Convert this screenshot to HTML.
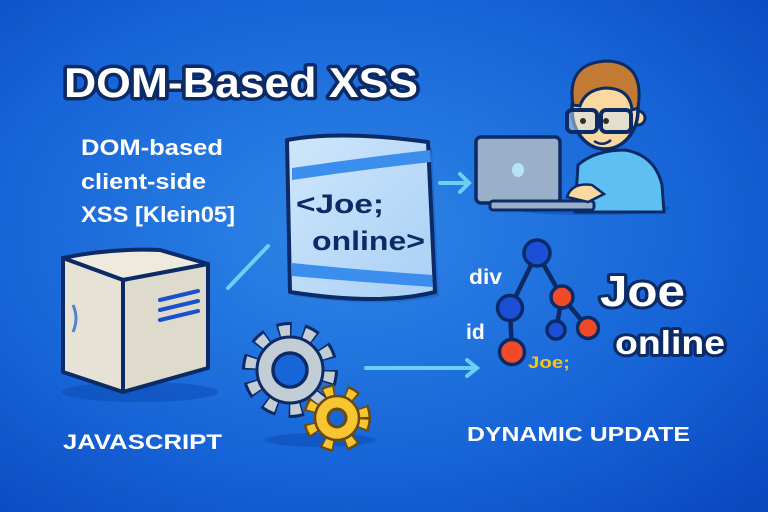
<!DOCTYPE html>
<html><head><meta charset="utf-8"><style>
html,body{margin:0;padding:0;width:768px;height:512px;overflow:hidden}
svg{display:block}
text{font-family:"Liberation Sans","DejaVu Sans",sans-serif;font-weight:bold}
</style></head><body>
<svg width="768" height="512" viewBox="0 0 768 512" xmlns="http://www.w3.org/2000/svg">
<defs>
<radialGradient id="bg" cx="0.45" cy="0.45" r="0.75">
<stop offset="0" stop-color="#2f86e6"/><stop offset="0.6" stop-color="#1765d8"/><stop offset="1" stop-color="#0a48c0"/>
</radialGradient>
<linearGradient id="pg" x1="0" y1="0" x2="1" y2="1"><stop offset="0" stop-color="#cfe6fb"/><stop offset="1" stop-color="#a9d0f5"/></linearGradient>
</defs>
<rect width="768" height="512" fill="url(#bg)"/>

<!-- title -->
<text x="64" y="97" font-size="42" textLength="354" lengthAdjust="spacingAndGlyphs" fill="#fff" stroke="#0b2a66" stroke-width="7" stroke-linejoin="round" paint-order="stroke">DOM-Based XSS</text>
<text x="81" y="155" font-size="22" fill="#fff" textLength="142" lengthAdjust="spacingAndGlyphs">DOM-based</text>
<text x="81" y="189" font-size="22" fill="#fff" textLength="125" lengthAdjust="spacingAndGlyphs">client-side</text>
<text x="81" y="222" font-size="22" fill="#fff" textLength="154" lengthAdjust="spacingAndGlyphs">XSS [Klein05]</text>

<!-- page card -->
<path d="M287 140 Q340 130 428 142 L435 290 Q380 303 290 290 Z" fill="#1550b0" opacity="0.35" transform="translate(4,6)"/>
<path d="M287 140 Q340 130 428 142 L435 292 Q380 306 290 292 Z" fill="url(#pg)" stroke="#0b2a66" stroke-width="4" stroke-linejoin="round"/>
<path d="M292 168 Q360 158 430 150 L431 162 Q360 170 292 180 Z" fill="#3c8eee"/>
<path d="M292 263 Q360 270 432 275 L433 287 Q360 282 292 276 Z" fill="#3c8eee"/>
<text x="296" y="213" font-size="27" fill="#0b2a66" textLength="88" lengthAdjust="spacingAndGlyphs">&lt;Joe;</text>
<text x="312" y="250" font-size="27" fill="#0b2a66" textLength="113" lengthAdjust="spacingAndGlyphs">online&gt;</text>

<!-- connectors -->
<g stroke="#6ad0f5" stroke-width="4" stroke-linecap="round" fill="none">
<line x1="228" y1="288" x2="268" y2="246"/>
<line x1="440" y1="183" x2="468" y2="183"/><path d="M460 174 L469 183 L460 192"/>
<line x1="366" y1="368" x2="476" y2="368"/><path d="M467 360 L477 368 L467 376"/>
</g>

<!-- person -->
<ellipse cx="590" cy="208" rx="80" ry="7" fill="#0d4fb8" opacity="0.6"/>
<path d="M578 165 Q595 150 625 150 Q655 155 662 185 L664 212 L575 212 Z" fill="#5ec0f2" stroke="#0b2a66" stroke-width="3"/>
<circle cx="638" cy="118" r="7" fill="#f9d9a0" stroke="#0b2a66" stroke-width="3"/>
<ellipse cx="605" cy="110" rx="33" ry="39" fill="#f9d9a0" stroke="#0b2a66" stroke-width="3.5"/>
<path d="M573 105 Q566 62 608 61 Q645 63 638 108 L632 110 Q630 88 605 88 Q585 90 580 106 Z" fill="#c27a34" stroke="#0b2a66" stroke-width="3"/>
<rect x="567" y="110" width="30" height="22" rx="5" fill="#cfe6f7" fill-opacity="0.5" stroke="#0b2a66" stroke-width="4"/>
<rect x="601" y="110" width="30" height="22" rx="5" fill="#cfe6f7" fill-opacity="0.5" stroke="#0b2a66" stroke-width="4"/>
<circle cx="583" cy="121" r="3" fill="#3a2a20"/><circle cx="606" cy="121" r="3" fill="#3a2a20"/>
<path d="M594 141 Q603 147 611 140" stroke="#0b2a66" stroke-width="2.5" fill="none"/>
<rect x="476" y="137" width="84" height="66" rx="5" fill="#9ab0c8" stroke="#0b2a66" stroke-width="3.5"/>
<ellipse cx="518" cy="170" rx="6" ry="7" fill="#b8e2f8"/>
<rect x="490" y="201" width="104" height="9" rx="3" fill="#9ab0c8" stroke="#0b2a66" stroke-width="3"/>
<path d="M567 197 Q572 182 592 185 L604 194 L588 202 Z" fill="#f9d9a0" stroke="#0b2a66" stroke-width="2.5"/>

<!-- server box -->
<ellipse cx="140" cy="392" rx="78" ry="10" fill="#0d4fb8" opacity="0.6"/>
<path d="M63 258 Q110 248 160 250 L208 264 L123 280 Z" fill="#eeeade" stroke="#0b2a66" stroke-width="4" stroke-linejoin="round"/>
<path d="M63 258 L123 280 L123 392 L63 372 Z" fill="#e6e3d6" stroke="#0b2a66" stroke-width="4" stroke-linejoin="round"/>
<path d="M123 280 L208 264 L208 368 L123 392 Z" fill="#dedbcd" stroke="#0b2a66" stroke-width="4" stroke-linejoin="round"/>
<path d="M73 305 Q79 318 73 332" stroke="#4f86c6" stroke-width="3" fill="none"/>
<g stroke="#1a50d0" stroke-width="4" stroke-linecap="round"><line x1="160" y1="300" x2="198" y2="291"/><line x1="160" y1="310" x2="198" y2="301"/><line x1="160" y1="320" x2="198" y2="311"/></g>

<!-- gears -->
<ellipse cx="320" cy="440" rx="55" ry="7" fill="#0d4fb8" opacity="0.6"/>
<g transform="translate(290,370)">
<circle r="38" fill="none" stroke="#0b2a66" stroke-width="20" stroke-dasharray="13 10.9"/>
<circle r="38" fill="none" stroke="#c3cdd6" stroke-width="14" stroke-dasharray="10 13.9" stroke-dashoffset="-1.5"/>
<circle r="33" fill="#c3cdd6" stroke="#0b2a66" stroke-width="3"/>
<circle r="17" fill="#1765d8" stroke="#0b2a66" stroke-width="3.5"/>
</g>
<g transform="translate(337,418)">
<circle r="26" fill="none" stroke="#6a4a10" stroke-width="16" stroke-dasharray="11 10.8"/>
<circle r="26" fill="none" stroke="#f7c531" stroke-width="11" stroke-dasharray="8 13.8" stroke-dashoffset="-1.5"/>
<circle r="22" fill="#f7c531" stroke="#6a4a10" stroke-width="2.5"/>
<circle r="9" fill="#1765d8" stroke="#6a4a10" stroke-width="3"/>
</g>

<!-- tree -->
<g stroke="#0b2a66" stroke-width="4.5" fill="none">
<line x1="537" y1="253" x2="510" y2="308"/><line x1="537" y1="253" x2="562" y2="297"/>
<line x1="510" y1="308" x2="512" y2="352"/><line x1="562" y1="297" x2="556" y2="330"/><line x1="562" y1="297" x2="588" y2="328"/>
</g>
<g stroke="#0b2a66" stroke-width="3.5">
<circle cx="537" cy="253" r="13" fill="#1c4fd8"/>
<circle cx="510" cy="308" r="12.5" fill="#1c4fd8"/>
<circle cx="562" cy="297" r="11" fill="#f04a28"/>
<circle cx="512" cy="352" r="12.5" fill="#f04a28"/>
<circle cx="556" cy="330" r="9" fill="#1c4fd8"/>
<circle cx="588" cy="328" r="10.5" fill="#f04a28"/>
</g>
<text x="469" y="284" font-size="21" fill="#fff" textLength="33" lengthAdjust="spacingAndGlyphs">div</text>
<text x="466" y="339" font-size="21" fill="#fff">id</text>
<text x="528" y="368" font-size="17" fill="#f5c518" textLength="42" lengthAdjust="spacingAndGlyphs">Joe;</text>
<text x="600" y="306" font-size="44" fill="#fff" stroke="#0b2a66" stroke-width="6" stroke-linejoin="round" paint-order="stroke" textLength="85" lengthAdjust="spacingAndGlyphs">Joe</text>
<text x="615" y="354" font-size="33" fill="#fff" stroke="#0b2a66" stroke-width="6" stroke-linejoin="round" paint-order="stroke" textLength="110" lengthAdjust="spacingAndGlyphs">online</text>

<text x="63" y="449" font-size="21" fill="#fff" textLength="159" lengthAdjust="spacingAndGlyphs">JAVASCRIPT</text>
<text x="467" y="441" font-size="20" fill="#fff" textLength="223" lengthAdjust="spacingAndGlyphs">DYNAMIC UPDATE</text>
</svg>
</body></html>
